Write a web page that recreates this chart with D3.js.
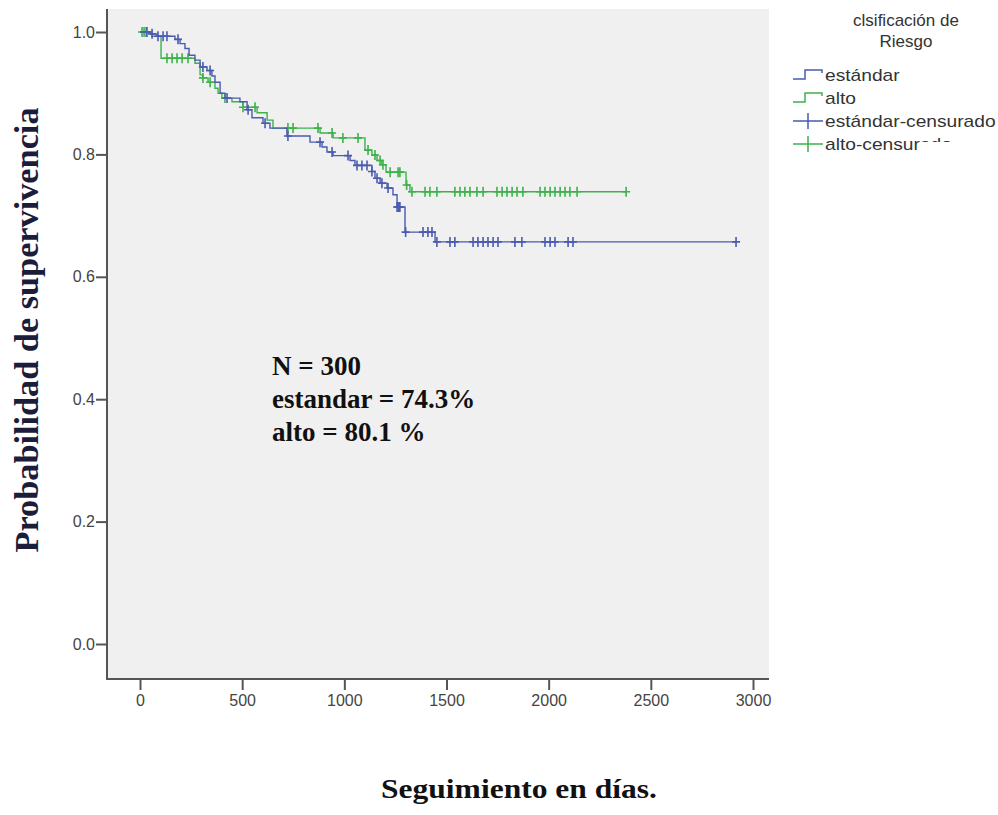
<!DOCTYPE html>
<html>
<head>
<meta charset="utf-8">
<script src="https://cdnjs.cloudflare.com/ajax/libs/d3/7.8.5/d3.min.js"></script>
<style>
  body { margin: 0; background: #fff; }
  text { font-family: "Liberation Sans", Arial, sans-serif; }
  .serif { font-family: "Liberation Serif", "Times New Roman", serif; font-weight: bold; }
</style>
</head>
<body>
<script>
// kaplan-meier curves

var xTicks = [0, 500, 1000, 1500, 2000, 2500, 3000];
var yTicks = [0.0, 0.2, 0.4, 0.6, 0.8, 1.0];

// estándar: step times (days) and survival after each step
var estandarTimes = [49, 83, 171, 196, 220, 240, 269, 294, 328, 352, 367, 392, 416, 489, 524, 548, 602, 636, 719, 832, 891, 915, 945, 1028, 1052, 1135, 1150, 1175, 1209, 1238, 1258, 1297, 1444];
var estandarSurv  = [0.997, 0.993, 0.988, 0.981, 0.973, 0.962, 0.954, 0.943, 0.937, 0.928, 0.918, 0.900, 0.892, 0.886, 0.873, 0.860, 0.851, 0.843, 0.830, 0.820, 0.812, 0.804, 0.798, 0.790, 0.782, 0.772, 0.761, 0.753, 0.745, 0.734, 0.714, 0.673, 0.657];
var estandarCensored = [34, 59, 88, 113, 132, 186, 308, 343, 426, 529, 612, 724, 881, 940, 1018, 1062, 1086, 1111, 1135, 1160, 1184, 1214, 1258, 1263, 1268, 1272, 1300, 1385, 1409, 1429, 1453, 1517, 1541, 1630, 1654, 1679, 1703, 1728, 1752, 1835, 1869, 1982, 2007, 2031, 2095, 2119, 2917];

// alto
var altoTimes = [59, 103, 269, 294, 308, 333, 367, 382, 401, 450, 504, 573, 622, 651, 881, 945, 1101, 1135, 1160, 1184, 1204, 1302, 1321];
var altoSurv  = [0.993, 0.957, 0.949, 0.930, 0.925, 0.918, 0.908, 0.900, 0.892, 0.886, 0.877, 0.868, 0.856, 0.843, 0.835, 0.827, 0.807, 0.799, 0.790, 0.783, 0.771, 0.750, 0.739];
var altoCensored = [10, 20, 30, 132, 157, 181, 206, 235, 308, 343, 416, 504, 563, 724, 749, 871, 940, 993, 1067, 1116, 1150, 1175, 1189, 1224, 1263, 1272, 1305, 1331, 1395, 1419, 1453, 1541, 1566, 1590, 1615, 1649, 1679, 1747, 1772, 1796, 1821, 1845, 1874, 1958, 1982, 2007, 2031, 2056, 2080, 2104, 2139, 2379];

var legendLabels = ['estándar', 'alto', 'estándar-censurado', 'alto-censurado'];
var noteLines = ['N = 300', 'estandar = 74.3%', 'alto = 80.1 %'];

var blue = '#4a5bb0';
var green = '#3cb24a';
var width = 998;
var height = 815;

var svg = d3.select('body').append('svg')
  .attr('width', width)
  .attr('height', height);

var x = d3.scaleLinear().domain([0, 3000]).range([140, 753]);
var y = d3.scaleLinear().domain([0, 1]).range([644, 32]);

// plot background
svg.append('rect')
  .attr('x', 107).attr('y', 9)
  .attr('width', 769 - 107).attr('height', 678 - 9)
  .attr('fill', '#f0f0f0');

// axes
var yAxis = svg.append('g')
  .attr('transform', 'translate(107,0)')
  .call(d3.axisLeft(y).tickValues(yTicks).tickFormat(d3.format('.1f')).tickSize(11).tickSizeOuter(0));
var xAxis = svg.append('g')
  .attr('transform', 'translate(0,679)')
  .call(d3.axisBottom(x).tickValues(xTicks).tickFormat(d3.format('d')).tickSize(11).tickSizeOuter(0));

[yAxis, xAxis].forEach(function(ax) {
  ax.select('.domain').remove();
  ax.selectAll('.tick line').attr('stroke', '#555').attr('stroke-width', 2);
  ax.selectAll('.tick text').attr('fill', '#444').attr('font-size', 16)
    .attr('font-family', '"Liberation Sans", Arial, sans-serif');
});
yAxis.selectAll('.tick text').attr('x', -12);
xAxis.selectAll('.tick text').attr('y', 16);

// axis lines (left + bottom)
svg.append('path')
  .attr('d', 'M107,9V679H769')
  .attr('fill', 'none')
  .attr('stroke', '#555')
  .attr('stroke-width', 2);

var survAt = function(times, surv, t) {
  var s = 1;
  for (var i = 0; i < times.length; i++) {
    if (times[i] <= t) { s = surv[i]; }
  }
  return s;
};

var stepLine = d3.line()
  .x(function(d) { return x(d[0]); })
  .y(function(d) { return y(d[1]); })
  .curve(d3.curveStepAfter);

var drawCurve = function(times, surv, censored, color) {
  var pts = [[0, 1]];
  for (var i = 0; i < times.length; i++) {
    pts.push([times[i], surv[i]]);
  }
  var tEnd = d3.max(censored.concat(times));
  pts.push([tEnd, survAt(times, surv, tEnd)]);

  svg.append('path')
    .attr('d', stepLine(pts))
    .attr('fill', 'none')
    .attr('stroke', color)
    .attr('stroke-width', 1.4);

  svg.append('g').selectAll('path')
    .data(censored)
    .enter().append('path')
    .attr('d', function(d) {
      var cx = x(d), cy = y(survAt(times, surv, d));
      return 'M' + (cx - 4) + ',' + cy + 'H' + (cx + 4) + 'M' + cx + ',' + (cy - 5) + 'V' + (cy + 5);
    })
    .attr('stroke', color)
    .attr('stroke-width', 1.6)
    .attr('fill', 'none');
};

drawCurve(altoTimes, altoSurv, altoCensored, green);
drawCurve(estandarTimes, estandarSurv, estandarCensored, blue);

// note inside the plot
svg.append('g').selectAll('text')
  .data(noteLines)
  .enter().append('text')
  .attr('class', 'serif')
  .attr('x', 272)
  .attr('y', function(d, i) { return 375 + i * 33; })
  .attr('font-size', 27)
  .attr('fill', '#111')
  .text(function(d) { return d; });

// axis titles
svg.append('text')
  .attr('class', 'serif')
  .attr('x', 519).attr('y', 798)
  .attr('text-anchor', 'middle')
  .attr('font-size', 27)
  .attr('textLength', 276)
  .attr('lengthAdjust', 'spacingAndGlyphs')
  .attr('fill', '#111')
  .text('Seguimiento en días.');

svg.append('text')
  .attr('class', 'serif')
  .attr('transform', 'translate(38,330) rotate(-90)')
  .attr('text-anchor', 'middle')
  .attr('font-size', 33)
  .attr('textLength', 445)
  .attr('lengthAdjust', 'spacingAndGlyphs')
  .attr('fill', '#1b1d3a')
  .text('Probabilidad de supervivencia');

// legend
var legend = svg.append('g');
legend.append('text')
  .attr('x', 906).attr('y', 26)
  .attr('text-anchor', 'middle')
  .attr('font-size', 17)
  .attr('fill', '#333')
  .text('clsificación de');
legend.append('text')
  .attr('x', 906).attr('y', 47)
  .attr('text-anchor', 'middle')
  .attr('font-size', 17)
  .attr('fill', '#333')
  .text('Riesgo');

// clip for the last label (partly hidden in the original), row-local coords
var clip = svg.append('defs').append('clipPath').attr('id', 'cut');
clip.append('rect').attr('x', 780).attr('y', -20).attr('width', 139).attr('height', 40);
clip.append('rect').attr('x', 919).attr('y', -20).attr('width', 90).attr('height', 18);

var legendColors = [blue, green, blue, green];
var rows = legend.selectAll('g.row')
  .data(legendLabels)
  .enter().append('g')
  .attr('class', 'row')
  .attr('transform', function(d, i) { return 'translate(0,' + (75 + i * 23) + ')'; });

rows.append('path')
  .attr('d', function(d, i) {
    if (i < 2) { return 'M793,4H805V-5H822V-2'; }
    return 'M793,0H823M808,-8V8';
  })
  .attr('fill', 'none')
  .attr('stroke', function(d, i) { return legendColors[i]; })
  .attr('stroke-width', 1.5);

rows.append('g')
  .attr('clip-path', function(d, i) { return i === 3 ? 'url(#cut)' : null; })
  .append('text')
  .attr('transform', 'translate(825,6) scale(1.2,1)')
  .attr('font-size', 16)
  .attr('fill', '#333')
  .text(function(d) { return d; });
</script>
</body>
</html>
